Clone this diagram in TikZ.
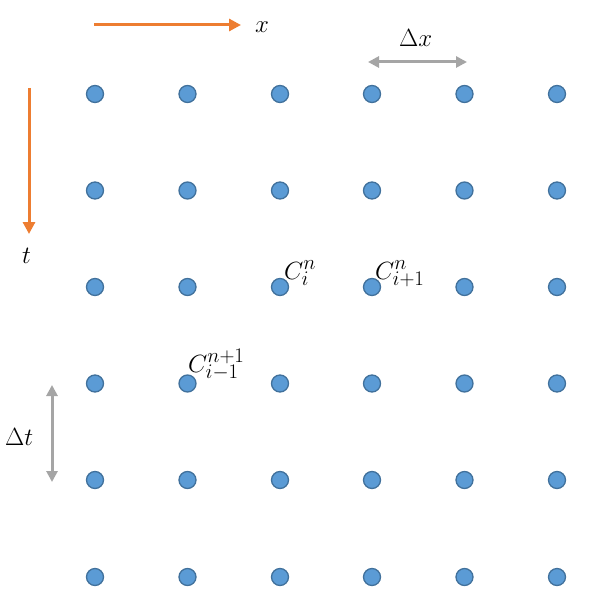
\documentclass[tikz,border=0pt]{standalone}
\usetikzlibrary{arrows.meta}
\DeclareMathSizes{27}{27}{20}{15}
\definecolor{dotfill}{HTML}{5B9BD5}
\definecolor{dotdraw}{HTML}{41719C}
\definecolor{orangeax}{HTML}{ED7D31}
\definecolor{grayar}{HTML}{A5A5A5}
\tikzset{
  gdot/.style={circle,fill=dotfill,draw=dotdraw,line width=1.3pt,minimum size=17pt,inner sep=0pt},
  axisarrow/.style={draw=orangeax,line width=3pt,-{Triangle[length=12pt,width=12pt]}},
  deltaarrow/.style={draw=grayar,line width=3pt,{Triangle[length=11pt,width=11pt]}-{Triangle[length=11pt,width=11pt]}},
  lbl/.style={inner sep=0pt,anchor=base west,font=\fontsize{27}{31}\selectfont}
}
\begin{document}
\begin{tikzpicture}[x=1pt,y=-1pt]
\useasboundingbox (0,0) rectangle (591,604);
\foreach \c/\xx in {1/95,2/187.5,3/280,4/372,5/464.5,6/557}{
  \foreach \r/\yy in {1/94,2/190.5,3/287,4/383.5,5/480,6/577}{
    \node[gdot] (d\c\r) at (\xx,\yy) {};
  }
}
\coordinate (xa) at (94,25);
\coordinate (xb) at (241,25);
\draw[axisarrow] (xa) -- (xb);
\node[lbl] (xl) at (255,33) {$x$};
\coordinate (ta) at (29,88);
\coordinate (tb) at (29,234);
\draw[axisarrow] (ta) -- (tb);
\node[lbl] (tl) at (22,263) {$t$};
\coordinate (dxa) at (368,62);
\coordinate (dxb) at (467,62);
\draw[deltaarrow] (dxa) -- (dxb);
\node[lbl] (dxl) at (399,47) {$\Delta x$};
\coordinate (dta) at (52,385);
\coordinate (dtb) at (52,482);
\draw[deltaarrow] (dta) -- (dtb);
\node[lbl] (dtl) at (5,445) {$\Delta t$};
\node[lbl] (c1) at (284,279) {$C_i^n$};
\node[lbl] (c2) at (375,279) {$C_{i+1}^n$};
\node[lbl] (c3) at (188,372) {$C_{i-1}^{n+1}$};
\end{tikzpicture}
\end{document}
